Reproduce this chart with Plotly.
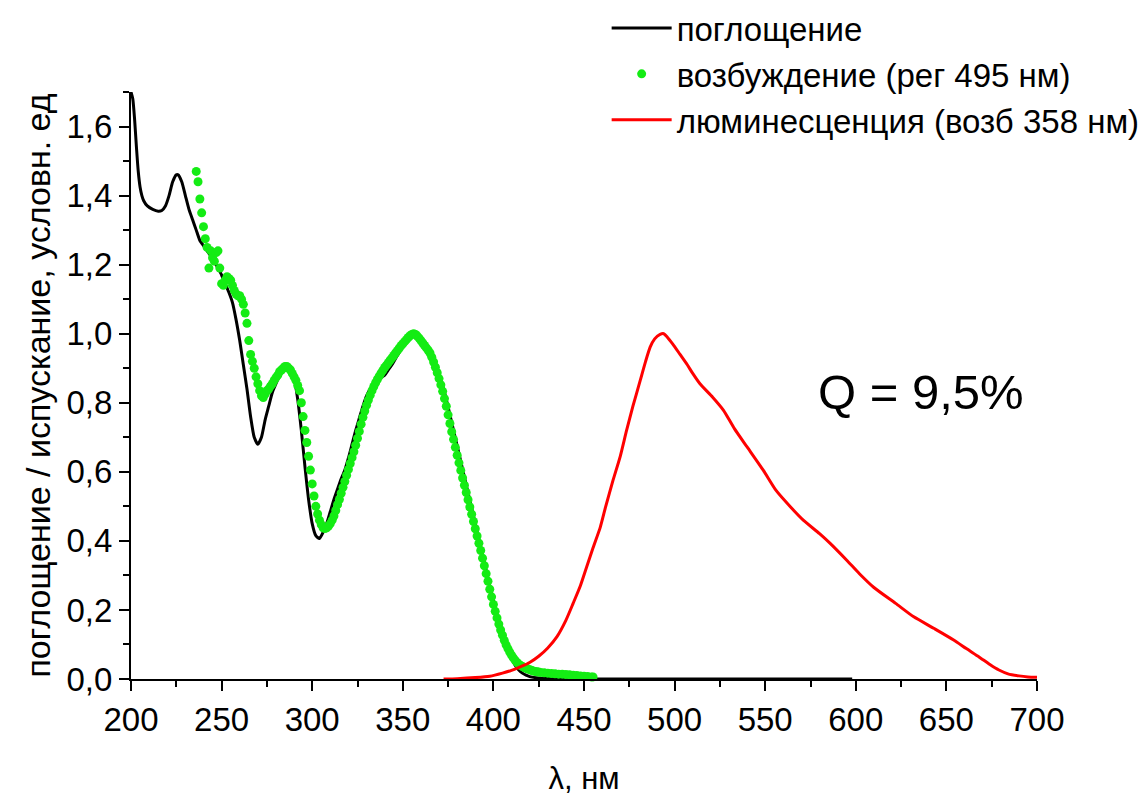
import plotly.graph_objects as go

# ---- absorption (поглощение) ----
abs_wl = [200, 201, 202, 203, 204, 205, 206, 207, 209, 212, 215, 217, 219, 221, 223, 225, 226, 228,
          230, 232, 234, 236, 238, 240, 242, 244, 246, 248, 250, 252, 254, 256, 258, 260, 262, 264,
          266, 268, 270, 272, 274, 276, 278, 280, 282, 284, 286, 288, 290, 292, 294, 296, 298, 300,
          302, 304, 306, 308, 310, 312, 314, 316, 318, 320, 322, 324, 326, 328, 330, 332, 334, 336,
          338, 340, 342, 344, 346, 348, 350, 352, 354, 356, 358, 360, 362, 364, 366, 368, 370, 372,
          374, 376, 378, 380, 382, 384, 386, 388, 390, 392, 394, 396, 398, 400, 402, 404, 406, 408,
          410, 412, 414, 416, 418, 420, 425, 430, 440, 450, 500, 550, 598]
abs_val = [1.70, 1.68, 1.62, 1.54, 1.47, 1.425, 1.40, 1.385, 1.37, 1.36, 1.355, 1.357, 1.37, 1.40,
           1.44, 1.46, 1.46, 1.44, 1.40, 1.36, 1.33, 1.30, 1.27, 1.255, 1.24, 1.225, 1.21, 1.19, 1.17,
           1.145, 1.12, 1.09, 1.04, 0.98, 0.91, 0.84, 0.76, 0.70, 0.68, 0.70, 0.75, 0.79, 0.83, 0.855,
           0.88, 0.90, 0.90, 0.89, 0.87, 0.81, 0.72, 0.615, 0.52, 0.45, 0.415, 0.407, 0.425, 0.45,
           0.485, 0.52, 0.55, 0.58, 0.605, 0.64, 0.68, 0.72, 0.755, 0.79, 0.82, 0.84, 0.855, 0.865,
           0.873, 0.88, 0.895, 0.91, 0.928, 0.946, 0.962, 0.978, 0.99, 0.998, 0.996, 0.99, 0.978,
           0.962, 0.94, 0.915, 0.885, 0.85, 0.81, 0.765, 0.72, 0.675, 0.63, 0.585, 0.54, 0.495, 0.45,
           0.405, 0.36, 0.315, 0.27, 0.228, 0.188, 0.15, 0.115, 0.085, 0.06, 0.04, 0.026, 0.017,
           0.011, 0.007, 0.003, 0.002, 0.001, 0.0, 0.0, 0.0, 0.0]

# ---- excitation (возбуждение, рег 495 нм) ----
exc_wl = [236, 237, 238, 239, 240, 241, 242, 243, 244, 245, 246, 247, 248, 249, 250, 251, 252, 253,
          254, 255, 256, 257, 258, 259, 260, 261, 262, 263, 264, 265, 266, 267, 268, 269, 270, 271,
          272, 273, 274, 275, 276, 277, 278, 279, 280, 281, 282, 283, 284, 285, 286, 287, 288, 289,
          290, 291, 292, 293, 294, 295, 296, 297, 298, 299, 300, 301, 302, 303, 304, 305, 306, 307,
          308, 309, 310, 311, 312, 313, 314, 315, 316, 317, 318, 319, 320, 321, 322, 323, 324, 325,
          326, 327, 328, 329, 330, 331, 332, 333, 334, 335, 336, 337, 338, 339, 340, 341, 342, 343,
          344, 345, 346, 347, 348, 349, 350, 351, 352, 353, 354, 355, 356, 357, 358, 359, 360, 361,
          362, 363, 364, 365, 366, 367, 368, 369, 370, 371, 372, 373, 374, 375, 376, 377, 378, 379,
          380, 381, 382, 383, 384, 385, 386, 387, 388, 389, 390, 391, 392, 393, 394, 395, 396, 397,
          398, 399, 400, 401, 402, 403, 404, 405, 406, 407, 408, 409, 410, 411, 412, 413, 414, 415,
          416, 417, 418, 419, 420, 421, 422, 423, 424, 425, 426, 428, 430, 432, 434, 436, 438, 440,
          442, 444, 446, 448, 450, 452, 454, 455]
exc_val = [1.47, 1.44, 1.39, 1.35, 1.31, 1.275, 1.25, 1.19, 1.24, 1.22, 1.21, 1.235, 1.24, 1.19,
           1.145, 1.14, 1.155, 1.165, 1.16, 1.155, 1.14, 1.125, 1.115, 1.11, 1.11, 1.10, 1.085, 1.06,
           1.03, 0.98, 0.94, 0.92, 0.90, 0.875, 0.855, 0.835, 0.82, 0.815, 0.825, 0.835, 0.84, 0.848,
           0.855, 0.865, 0.873, 0.88, 0.89, 0.895, 0.90, 0.905, 0.905, 0.90, 0.895, 0.885, 0.875,
           0.865, 0.85, 0.835, 0.80, 0.76, 0.72, 0.685, 0.645, 0.605, 0.565, 0.53, 0.50, 0.478, 0.46,
           0.447, 0.438, 0.436, 0.438, 0.443, 0.45, 0.46, 0.472, 0.488, 0.505, 0.52, 0.538, 0.555,
           0.572, 0.59, 0.607, 0.624, 0.641, 0.658, 0.677, 0.697, 0.717, 0.738, 0.758, 0.776, 0.793,
           0.808, 0.822, 0.835, 0.847, 0.858, 0.868, 0.877, 0.886, 0.894, 0.902, 0.909, 0.916, 0.923,
           0.93, 0.937, 0.944, 0.951, 0.958, 0.965, 0.971, 0.977, 0.983, 0.989, 0.994, 0.998, 1.0,
           0.998, 0.993, 0.987, 0.98, 0.973, 0.966, 0.959, 0.952, 0.944, 0.932, 0.918, 0.903, 0.887,
           0.87, 0.852, 0.833, 0.812, 0.79, 0.765, 0.74, 0.716, 0.694, 0.671, 0.648, 0.626, 0.604,
           0.582, 0.561, 0.54, 0.519, 0.498, 0.477, 0.456, 0.435, 0.414, 0.393, 0.372, 0.35, 0.328,
           0.305, 0.283, 0.26, 0.238, 0.216, 0.196, 0.177, 0.159, 0.142, 0.127, 0.112, 0.099, 0.088,
           0.078, 0.069, 0.061, 0.054, 0.048, 0.043, 0.039, 0.036, 0.033, 0.031, 0.029, 0.027, 0.025,
           0.023, 0.022, 0.021, 0.02, 0.019, 0.018, 0.017, 0.016, 0.015, 0.014, 0.014, 0.013, 0.012,
           0.011, 0.01, 0.009, 0.008, 0.007, 0.006, 0.006]

# ---- luminescence (люминесценция, возб 358 нм) ----
lum_wl = [372.5, 380, 390, 398, 405, 410, 416, 420, 425, 430, 435, 440, 444, 448, 451.5, 455, 459,
          462, 466, 470, 473.5, 477, 481, 484, 486.5, 489, 492, 494, 496, 499, 503, 507, 510, 514,
          521, 527, 533, 540, 549, 556, 564, 571, 580, 586, 595, 602, 610, 622, 632, 643, 654, 661,
          668, 674, 679, 684, 690, 695, 700]
lum_val = [0.0, 0.001, 0.004, 0.008, 0.017, 0.025, 0.038, 0.048, 0.066, 0.09, 0.122, 0.17, 0.219,
           0.27, 0.325, 0.38, 0.44, 0.50, 0.575, 0.645, 0.72, 0.79, 0.864, 0.92, 0.961, 0.985, 0.998,
           1.0, 0.99, 0.97, 0.94, 0.91, 0.885, 0.855, 0.816, 0.778, 0.725, 0.672, 0.604, 0.546, 0.498,
           0.46, 0.421, 0.392, 0.344, 0.305, 0.265, 0.219, 0.18, 0.147, 0.113, 0.088, 0.064, 0.042,
           0.026, 0.015, 0.009, 0.006, 0.005]

names = ["поглощение", "возбуждение (рег 495 нм)", "люминесценция (возб 358 нм)"]
x_ticks = [200, 250, 300, 350, 400, 450, 500, 550, 600, 650, 700]
y_ticks = [0.0, 0.2, 0.4, 0.6, 0.8, 1.0, 1.2, 1.4, 1.6]
y_tick_text = ["0,0", "0,2", "0,4", "0,6", "0,8", "1,0", "1,2", "1,4", "1,6"]

FONT = "Liberation Sans, Arial, sans-serif"

fig = go.Figure()
fig.add_trace(go.Scatter(x=abs_wl, y=abs_val, mode="lines", name=names[0], legendgroup="a",
                         line=dict(color="black", width=3, shape="spline", smoothing=0.6),
                         cliponaxis=True))
fig.add_trace(go.Scatter(x=exc_wl, y=exc_val, mode="markers", name=names[1], legendgroup="b",
                         marker=dict(color="#14ec14", size=9, line=dict(width=0)), cliponaxis=False))
fig.add_trace(go.Scatter(x=lum_wl, y=lum_val, mode="lines", name=names[2], legendgroup="c",
                         line=dict(color="#ff0000", width=3, shape="spline", smoothing=0.6),
                         cliponaxis=True))

fig.add_annotation(x=636, y=0.83, xref="x", yref="y", text="Q = 9,5%", showarrow=False,
                   font=dict(family=FONT, size=49, color="black"))

fig.update_layout(
    width=1140, height=796,
    margin=dict(l=131, r=103, t=92, b=117, autoexpand=False),
    paper_bgcolor="white", plot_bgcolor="white",
    font=dict(family=FONT, color="black"),
    showlegend=True,
    legend=dict(x=0.525, xref="paper", y=1.0, yref="container", xanchor="left", yanchor="top",
                font=dict(family=FONT, size=33, color="black"),
                bgcolor="rgba(0,0,0,0)", itemwidth=60, tracegroupgap=0),
    xaxis=dict(range=[200, 700], tickvals=x_ticks, ticks="outside", ticklen=10, tickwidth=2,
               tickcolor="black", showline=True, linewidth=2, linecolor="black", showgrid=False,
               zeroline=False, tickfont=dict(family=FONT, size=33), automargin=False,
               minor=dict(dtick=25, tick0=200, ticks="outside", ticklen=6, tickwidth=2, tickcolor="black"),
               title=dict(text="λ, нм", font=dict(family=FONT, size=31), standoff=32)),
    yaxis=dict(range=[0, 1.7], tickvals=y_ticks, ticktext=y_tick_text, ticks="outside", ticklen=10,
               tickwidth=2, tickcolor="black", showline=True, linewidth=2, linecolor="black",
               showgrid=False, zeroline=False, tickfont=dict(family=FONT, size=33), automargin=False,
               minor=dict(dtick=0.1, tick0=0, ticks="outside", ticklen=6, tickwidth=2, tickcolor="black"),
               title=dict(text="поглощение / испускание, условн. ед", font=dict(family=FONT, size=34),
                          standoff=6)),
)

fig.write_html("out.html")
